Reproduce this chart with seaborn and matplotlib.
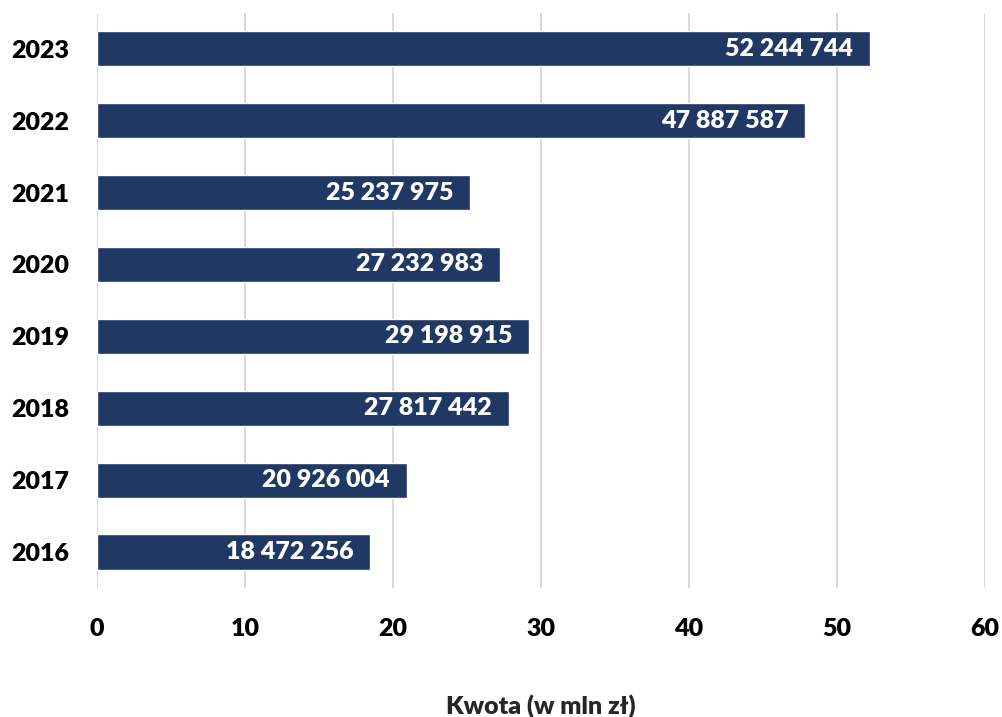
import pandas as pd
import matplotlib
matplotlib.use("Agg")
import matplotlib.pyplot as plt
import seaborn as sns

# Dane: kwoty w zł dla kolejnych lat
lata = ["2023", "2022", "2021", "2020", "2019", "2018", "2017", "2016"]
kwoty = [52244744, 47887587, 25237975, 27232983, 29198915, 27817442, 20926004, 18472256]

df = pd.DataFrame({"rok": lata, "kwota": kwoty})
df["mln"] = df["kwota"] / 1e6

sns.set_theme(style="white")
plt.rcParams["font.family"] = ["Lato", "DejaVu Sans"]
waga = "heavy"

fig = plt.figure(figsize=(10.03, 7.17), dpi=100)
ax = fig.add_axes([0.0967, 0.18, 0.885, 0.802])

sns.barplot(data=df, x="mln", y="rok", order=lata, color="#203864",
            saturation=1, width=0.49, ax=ax, zorder=3)

# Etykiety z wartościami wewnątrz słupków
for rok, mln, kw in zip(df["rok"], df["mln"], df["kwota"]):
    ax.annotate(f"{kw:,}".replace(",", " "), xy=(mln, rok), xytext=(-12, 0),
                textcoords="offset points", ha="right", va="center",
                color="white", fontsize=18, fontweight=waga, zorder=4)

ax.set_xlim(0, 60)
ax.set_xticks(range(0, 61, 10))
ax.grid(axis="x", color="#d9d9d9", linewidth=1.4, zorder=0)
ax.grid(axis="y", visible=False)
for s in ax.spines.values():
    s.set_visible(False)

ax.tick_params(axis="both", length=0, labelsize=18)
ax.tick_params(axis="x", pad=22)
ax.tick_params(axis="y", pad=20)
for t in ax.get_xticklabels() + ax.get_yticklabels():
    t.set_fontweight(waga)
    t.set_color("black")

ax.set_xlabel("Kwota (w mln zł)", fontsize=18, fontweight=waga, labelpad=39)
ax.set_ylabel("")

fig.savefig("out.png", dpi=100)
